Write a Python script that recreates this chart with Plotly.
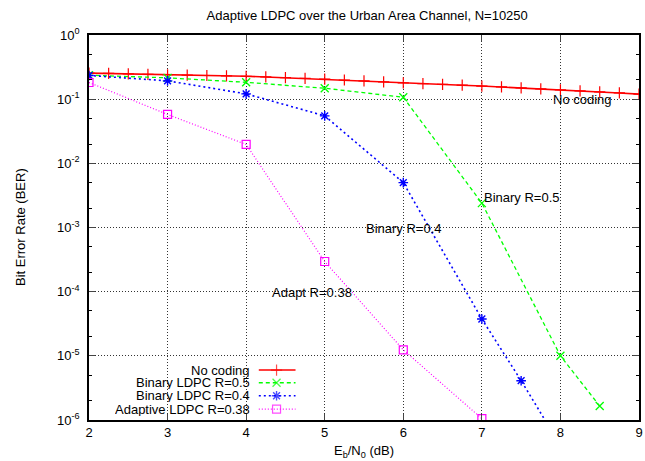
import math
import plotly.graph_objects as go

# ---- data ----
snr_uncoded = [2.0, 2.25, 2.5, 2.75, 3.0, 3.25, 3.5, 3.75, 4.0, 4.25, 4.5, 4.75,
               5.0, 5.25, 5.5, 5.75, 6.0, 6.25, 6.5, 6.75, 7.0, 7.25, 7.5, 7.75,
               8.0, 8.25, 8.5, 8.75, 9.0]
ber_uncoded = [0.255, 0.252, 0.248, 0.244, 0.240, 0.237, 0.234, 0.231, 0.227,
               0.222, 0.216, 0.211, 0.205, 0.199, 0.193, 0.186, 0.180, 0.175,
               0.170, 0.165, 0.160, 0.155, 0.150, 0.145, 0.140, 0.135, 0.130,
               0.125, 0.120]

snr_r05 = [2, 3, 4, 5, 6, 7, 8, 8.5]
ber_r05 = [0.236, 0.215, 0.183, 0.148, 0.107, 2.4e-3, 1.0e-5, 1.65e-6]

snr_r04 = [2, 3, 4, 5, 6, 7, 7.5, 8]
ber_r04 = [0.234, 0.193, 0.121, 0.055, 5.0e-3, 3.75e-5, 4.1e-6, 4.0e-7]

snr_ad = [2, 3, 4, 5, 6, 7]
ber_ad = [0.182, 0.0578, 0.0197, 2.95e-4, 1.24e-5, 1.05e-6]

names = ["No coding", "Binary LDPC R=0.5", "Binary LDPC R=0.4", "Adaptive LDPC R=0.38"]
colors = ["#ff0000", "#00ff00", "#0000ff", "#ff00ff"]
dashes = ["solid", "4px,3px", "2px,3px", "1px,2px"]
widths = [1.6, 1.3, 1.6, 1.2]
symbols = ["cross-thin-open", "x-thin-open", "asterisk-open", "square-open"]
msizes = [8, 8, 8, 8]
mwidths = [1.2, 1.3, 1.4, 1.2]

ytick_vals = [1, 1e-1, 1e-2, 1e-3, 1e-4, 1e-5, 1e-6]
ytick_text = ["10<sup>0</sup>", "10<sup>-1</sup>", "10<sup>-2</sup>", "10<sup>-3</sup>",
              "10<sup>-4</sup>", "10<sup>-5</sup>", "10<sup>-6</sup>"]
yminor_vals = [5e-1, 2e-1, 5e-2, 2e-2, 5e-3, 2e-3, 5e-4, 2e-4, 5e-5, 2e-5, 5e-6, 2e-6]
xtick_vals = [2, 3, 4, 5, 6, 7, 8, 9]

curve_labels = ["No coding", "Binary R=0.5", "Binary R=0.4", "Adapt R=0.38"]
label_x = [7.88, 7.0, 5.5, 4.3]
label_y = [0.1, 2.97e-3, 9.5e-4, 9.6e-5]

FONT = "Liberation Sans, Arial, sans-serif"
FS = 13

fig = go.Figure()
series = [(snr_uncoded, ber_uncoded), (snr_r05, ber_r05), (snr_r04, ber_r04), (snr_ad, ber_ad)]
for i, (xs, ys) in enumerate(series):
    fig.add_trace(go.Scatter(
        x=xs, y=ys, mode="lines+markers", name=names[i],
        line=dict(color=colors[i], width=widths[i], dash=dashes[i]),
        marker=dict(symbol=symbols[i], size=msizes[i], color=colors[i],
                    line=dict(color=colors[i], width=mwidths[i])),
        showlegend=False,
    ))

# ---- custom gnuplot-style legend (text right, sample on the right) ----
leg_rows = [0.1297, 0.0968, 0.0630, 0.0285]
for i in range(4):
    fig.add_trace(go.Scatter(
        x=[0.3087, 0.341, 0.3755], y=[leg_rows[i]] * 3,
        xaxis="x2", yaxis="y2", mode="lines+markers", showlegend=False,
        hoverinfo="skip",
        line=dict(color=colors[i], width=widths[i], dash=dashes[i]),
        marker=dict(symbol=symbols[i], size=[0, msizes[i], 0], color=colors[i],
                    line=dict(color=colors[i], width=mwidths[i])),
    ))
    fig.add_annotation(x=0.2937, y=leg_rows[i], xref="paper", yref="paper",
                       text=names[i], showarrow=False, xanchor="right",
                       yanchor="middle", borderpad=0, height=13,
                       font=dict(size=FS, color="black", family=FONT))

for t, xx, yy in zip(curve_labels, label_x, label_y):
    fig.add_annotation(x=xx, y=math.log10(yy), xref="x", yref="y", text=t, showarrow=False,
                       xanchor="left", yanchor="middle",
                       font=dict(size=FS, color="black", family=FONT))

# y-axis title as rotated text placed like the reference
fig.add_annotation(x=-0.1245, y=0.5, xref="paper", yref="paper",
                   text="Bit Error Rate (BER)", textangle=-90, showarrow=False,
                   xanchor="center", yanchor="middle",
                   font=dict(size=FS, color="black", family=FONT))

fig.update_layout(
    width=645, height=461,
    margin=dict(l=89, r=2, t=35, b=41),
    paper_bgcolor="white", plot_bgcolor="white",
    font=dict(family=FONT, size=FS, color="black"),
    title=dict(text="Adaptive LDPC over the Urban Area Channel, N=10250",
               x=0.5693, xanchor="center", y=0.967, yanchor="middle",
               font=dict(size=FS, family=FONT)),
    xaxis=dict(range=[2, 9], tickvals=xtick_vals, ticks="inside", ticklen=6,
               showline=True, linecolor="black", linewidth=1.5, mirror="ticks",
               showgrid=True, gridcolor="#333", griddash="1px,2px", gridwidth=1,
               zeroline=False, tickfont=dict(size=FS),
               title=dict(text="E<sub>b</sub>/N<sub>0</sub> (dB)", font=dict(size=FS), standoff=7)),
    yaxis=dict(type="log", range=[-6, 0], tickvals=ytick_vals, ticktext=ytick_text,
               ticks="inside", ticklen=6, ticklabelstandoff=5,
               showline=True, linecolor="black", linewidth=1.5, mirror="ticks",
               showgrid=True, gridcolor="#333", griddash="1px,2px", gridwidth=1,
               zeroline=False, tickfont=dict(size=FS),
               minor=dict(ticks="inside", ticklen=3, tickvals=yminor_vals,
                          showgrid=False, tickcolor="black")),
    xaxis2=dict(overlaying="x", range=[0, 1], visible=False, fixedrange=True),
    yaxis2=dict(overlaying="y", range=[0, 1], visible=False, fixedrange=True),
)

fig.write_html("out.html", post_script="document.body.style.margin='0';",
               config={"displayModeBar": False})
